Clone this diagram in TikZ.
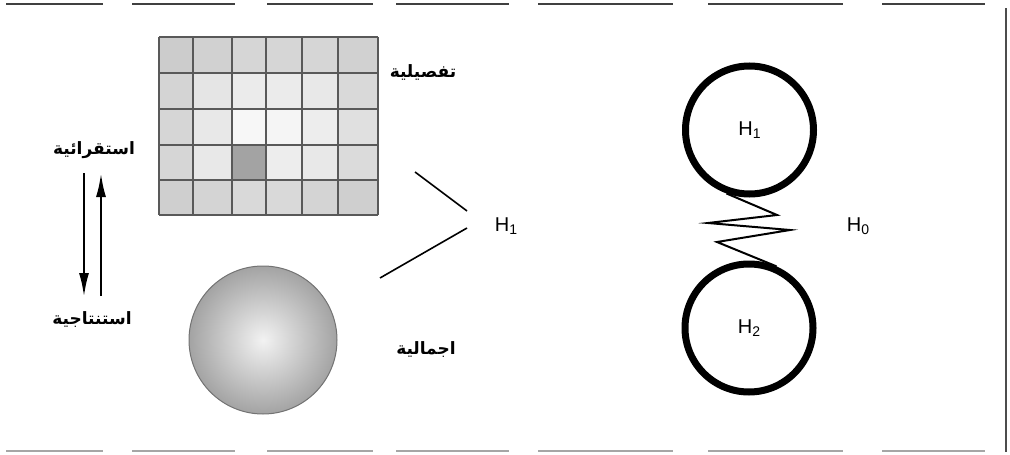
\documentclass[tikz,border=0pt]{standalone}
\usepackage{fontspec}
\setmainfont{Liberation Sans}
\newfontfamily\arabicfont[Script=Arabic]{DejaVu Sans}
\TeXXeTstate=1
\usetikzlibrary{arrows.meta}
\newcommand{\hsub}[1]{H\raisebox{-0.3ex}{\fontsize{14}{14}\selectfont #1}}
\begin{document}
\begin{tikzpicture}[x=1pt,y=-1pt,
  lbl/.style={font=\fontsize{20}{22}\selectfont, inner sep=0pt},
  arlbl/.style={font=\arabicfont\bfseries\fontsize{17}{19}\selectfont, inner sep=0pt},
  ring/.style={circle, draw, line width=7pt, minimum size=128pt, inner sep=0pt, font=\fontsize{20}{22}\selectfont},
  gridline/.style={draw=black!65, line width=1.3pt},
  conn/.style={line width=1.6pt},
  arr/.style={line width=2.5pt, -{Latex[length=24pt,width=10pt]}},
  frametop/.style={line width=2.5pt, black!75},
  framebot/.style={line width=1.5pt, black!35}]
\useasboundingbox (0,0) rectangle (1010,455);
% frame
\foreach \a/\b in {6/103,132/235,267/373,396/509,538/673,708/843,882/985}
  \draw[frametop] (\a,4) -- (\b,4);
\foreach \a/\b in {6/103,132/235,267/373,396/509,538/673,708/843,882/985}
  \draw[framebot] (\a,451) -- (\b,451);
\draw[line width=1.5pt, black!70] (1006,8) -- (1006,452);
% grid
\def\xs{{159,193,232,266,302,338,378}}
\def\ys{{37,73,109,145,180,215}}
\foreach \r/\c/\g in {
 0/0/80,0/1/82,0/2/84,0/3/84,0/4/84,0/5/82,
 1/0/83,1/1/90,1/2/92,1/3/92,1/4/91,1/5/85,
 2/0/84,2/1/91,2/2/97,2/3/96,2/4/93,2/5/88,
 3/0/84,3/1/91,3/2/64,3/3/93,3/4/91,3/5/86,
 4/0/81,4/1/83,4/2/85,4/3/85,4/4/83,4/5/81}{
  \pgfmathsetmacro{\xa}{\xs[\c]}
  \pgfmathsetmacro{\xb}{\xs[\c+1]}
  \pgfmathsetmacro{\ya}{\ys[\r]}
  \pgfmathsetmacro{\yb}{\ys[\r+1]}
  \fill[black!\the\numexpr100-\g\relax!white] (\xa,\ya) rectangle (\xb,\yb);
}
\foreach \x in {159,193,232,266,302,338,378} \draw[gridline] (\x,37) -- (\x,215);
\foreach \y in {37,73,109,145,180,215} \draw[gridline] (159,\y) -- (378,\y);
\node[inner sep=0pt, minimum width=219pt, minimum height=178pt] (grid) at (268.5,126) {};
% sphere
\shade[inner color=black!5, outer color=black!36, draw=black!55, line width=1pt] (263,340) circle[radius=74pt];
\node[circle, minimum size=148pt, inner sep=0pt] (sphere) at (263,340) {};
% labels
\node[arlbl] (tafs) at (423,72) {\beginR تفصيلية\endR};
\node[arlbl] (ijm) at (426,350) {\beginR اجمالية\endR};
\node[arlbl] (istq) at (94,150) {\beginR استقرائية\endR};
\node[arlbl] (istn) at (92,320) {\beginR استنتاجية\endR};
\node[lbl] (h1) at (506,226) {\hsub{1}};
% connectors to H1
\coordinate (la) at (415,172);
\coordinate (lb) at (467,211);
\coordinate (lc) at (380,278);
\coordinate (ld) at (467,228);
\draw[conn] (la) -- (lb);
\draw[conn] (lc) -- (ld);
% arrows
\coordinate (da) at (84,173);
\coordinate (db) at (84,297);
\coordinate (ua) at (101,296);
\coordinate (ub) at (101,173);
\draw[arr] (da) -- (db);
\draw[arr] (ua) -- (ub);
% rings
\node[ring] (c1) at (749.5,130) {\hsub{1}};
\node[ring] (c2) at (749,328) {\hsub{2}};
\node[lbl] (h0) at (858,226) {\hsub{0}};
\draw[line width=2pt, line join=miter] (c1.250) -- (777,215) -- (708,223) -- (790,230) -- (717,242) -- (c2.66);
\end{tikzpicture}
\end{document}
